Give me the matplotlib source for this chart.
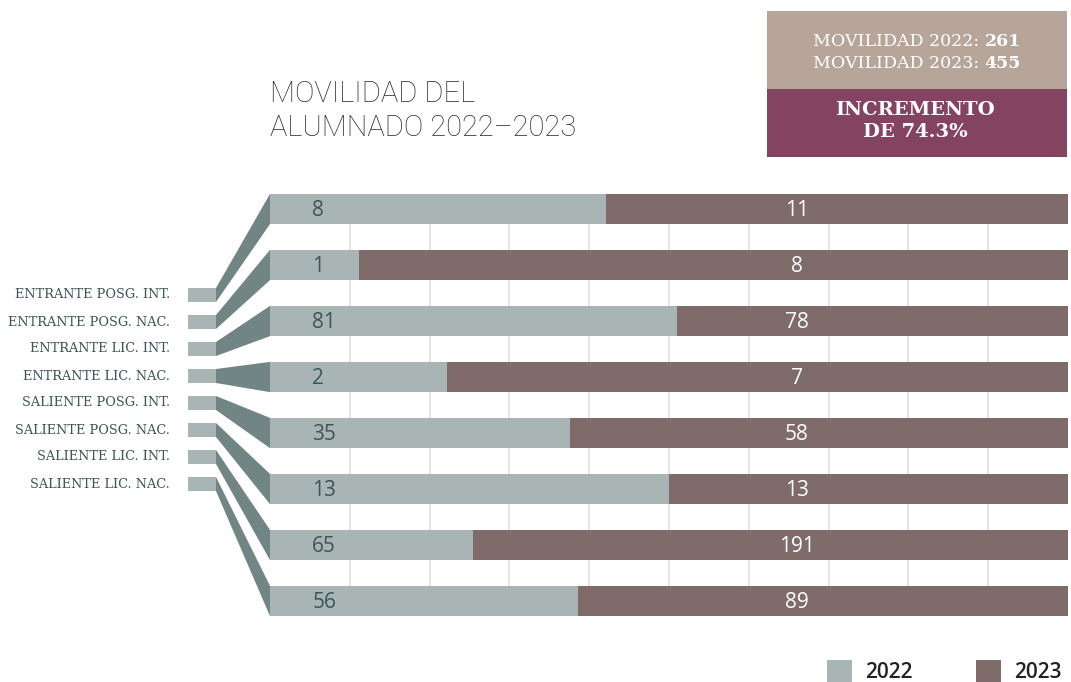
import matplotlib
matplotlib.use("Agg")
import matplotlib.pyplot as plt
from matplotlib.patches import Rectangle, Polygon

categories = ["ENTRANTE POSG. INT.", "ENTRANTE POSG. NAC.", "ENTRANTE LIC. INT.",
              "ENTRANTE LIC. NAC.", "SALIENTE POSG. INT.", "SALIENTE POSG. NAC.",
              "SALIENTE LIC. INT.", "SALIENTE LIC. NAC."]
values_2022 = [8, 1, 81, 2, 35, 13, 65, 56]
values_2023 = [11, 8, 78, 7, 58, 13, 191, 89]
years = ["2022", "2023"]

C22 = "#a9b4b4"
C23 = "#7f6b69"
CONN = "#728585"
TXT = "#3d5555"

W, H = 1071, 682
fig = plt.figure(figsize=(W / 100, H / 100), dpi=100)

# overlay in pixel units for the decorations
over = fig.add_axes([0, 0, 1, 1])
over.set_xlim(0, W)
over.set_ylim(H, 0)
over.axis("off")

# main stacked bars (share of each year)
bar_l, bar_r, bar_t, bar_b = 270, 1068, 181, 629
ax = fig.add_axes([bar_l / W, 1 - bar_b / H, (bar_r - bar_l) / W, (bar_b - bar_t) / H])
n = len(categories)
totals = [a + b for a, b in zip(values_2022, values_2023)]
share22 = [a / t for a, t in zip(values_2022, totals)]
share23 = [b / t for b, t in zip(values_2023, totals)]
ypos = list(range(n))
bh = 0.54
ax.barh(ypos, share22, height=bh, color=C22, zorder=3)
ax.barh(ypos, share23, left=share22, height=bh, color=C23, zorder=3)
ax.set_xlim(0, 1)
ax.set_ylim(n - 0.5, -0.5)
ax.set_xticks([])
ax.set_yticks([])
# grid lines only between the first and last bar
ax.vlines([i / 10 for i in range(1, 10)], 0, n - 1, color="#e0e0e0", lw=1.2, zorder=0)
for s in ax.spines.values():
    s.set_visible(False)

for i in range(n):
    ax.text(0.053, i + 0.03, str(values_2022[i]), ha="left", va="center", fontsize=15,
            color=TXT, family="Open Sans", zorder=4)
    ax.text(0.66, i + 0.03, str(values_2023[i]), ha="center", va="center", fontsize=15,
            color="white", family="Open Sans", zorder=4)

# left labels with connectors
to_px = ax.transData + over.transData.inverted()
lab_y0, lab_dy, lab_h = 295, 27, 14
rx0, rx1 = 188, 216
for i, cat in enumerate(categories):
    yc = lab_y0 + i * lab_dy
    over.add_patch(Rectangle((rx0, yc - lab_h / 2), rx1 - rx0, lab_h, color=C22, lw=0))
    over.text(170, yc, cat, ha="right", va="center", fontsize=9.3, color=TXT,
              family="DejaVu Serif")
    x0, ytop = to_px.transform((0, i - bh / 2))
    _, ybot = to_px.transform((0, i + bh / 2))
    over.add_patch(Polygon([(rx1, yc - lab_h / 2), (x0, ytop), (x0, ybot),
                            (rx1, yc + lab_h / 2)], closed=True, color=CONN, lw=0))

# title
over.text(270, 111, "MOVILIDAD DEL\nALUMNADO 2022\u20132023", ha="left", va="center",
          fontsize=21, color="#2e2e2e", family="Roboto", fontweight="light",
          linespacing=1.25)

# summary boxes
over.add_patch(Rectangle((767, 11), 300, 78, color="#b7a59a", lw=0))
over.add_patch(Rectangle((767, 89), 300, 68, color="#844461", lw=0))
fig.canvas.draw()
rend = fig.canvas.get_renderer()
for yy, yr, tot in [(41, years[0], sum(values_2022)), (63, years[1], sum(values_2023))]:
    t1 = over.text(0, yy, f"MOVILIDAD {yr}: ", ha="left", va="center", fontsize=12.5,
                   color="white", family="DejaVu Serif")
    t2 = over.text(0, yy, str(tot), ha="left", va="center", fontsize=12.5,
                   color="white", family="DejaVu Serif", fontweight="bold")
    w1 = t1.get_window_extent(rend).width
    w2 = t2.get_window_extent(rend).width
    xs = 917 - (w1 + w2) / 2
    t1.set_x(xs)
    t2.set_x(xs + w1)
inc = (sum(values_2023) - sum(values_2022)) / sum(values_2022) * 100
over.text(915, 121, f"INCREMENTO\nDE {inc:.1f}%", ha="center", va="center", fontsize=14,
          color="white", family="DejaVu Serif", fontweight="bold", linespacing=1.3)

# legend
for x, yr, c in [(827, years[0], C22), (976, years[1], C23)]:
    over.add_patch(Rectangle((x, 660), 25, 22, color=c, lw=0))
    over.text(x + 38, 672, yr, ha="left", va="center", fontsize=15, color="#222222",
              family="Open Sans", fontweight="semibold")

fig.savefig("out.png", dpi=100)
